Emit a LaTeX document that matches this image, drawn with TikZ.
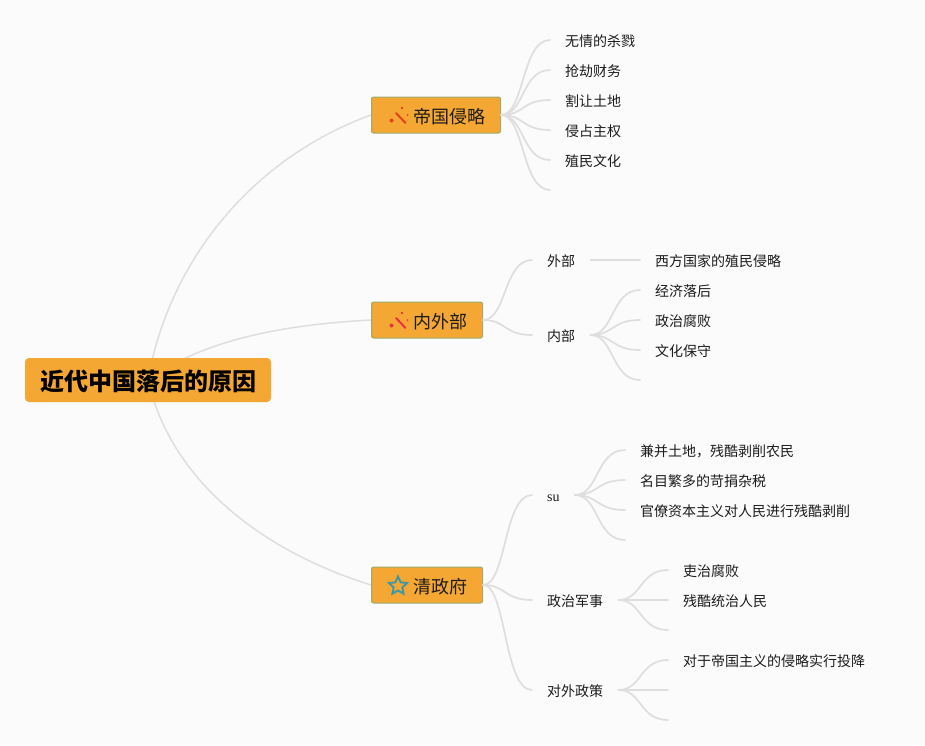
\documentclass[tikz,border=0pt]{standalone}
\usepackage{fontspec}
\setmainfont{Noto Sans CJK SC}
\newfontfamily\latinserif{Liberation Serif}
\usetikzlibrary{calc,backgrounds,shapes.geometric}
\definecolor{pagebg}{HTML}{FBFBFB}
\definecolor{boxfill}{HTML}{F5A733}
\definecolor{boxline}{HTML}{9CAB70}
\definecolor{linkgrey}{HTML}{DEDEDE}
\definecolor{inkdark}{HTML}{1C1C1C}
\definecolor{wandA}{HTML}{E4401E}
\definecolor{wandB}{HTML}{EE2F48}
\definecolor{startint}{HTML}{3F97A5}
\tikzset{
  x=1pt,y=-1pt,
  rootbox/.style={fill=boxfill,rounded corners=4pt,minimum width=246pt,minimum height=44pt,inner sep=0pt,text=black,text height=24pt,text depth=2.8pt,font=\fontsize{24}{28}\selectfont\bfseries},
  mainbox/.style={fill=boxfill,draw=boxline,line width=1pt,rounded corners=2pt,minimum height=36pt,inner xsep=15pt,inner ysep=0pt,anchor=west,text=inkdark,text height=18pt,text depth=1.3pt,font=\fontsize{18}{22}\selectfont},
  topic/.style={anchor=west,inner xsep=15pt,inner ysep=0pt,text=inkdark,text height=14pt,text depth=1.4pt,font=\fontsize{14}{17}\selectfont},
  link/.style={draw=linkgrey,line width=1.7pt,line cap=round},
  rootlink/.style={draw=linkgrey,line width=1.5pt},
  wandstroke/.style={line width=2pt,line cap=round}
}
\newcommand{\linkto}[2]{\draw[link] let \p1=(#1),\p2=(#2) in (\p1) .. controls ({0.52*\x1+0.48*\x2},\y1) and ({0.58*\x1+0.42*\x2},\y2) .. (\p2);}
\newcommand{\wandicon}[2]{%
  \begin{scope}[shift={(#1.west)},#2]
    \draw[wandstroke] (25,-2) -- (34.5,8);
    \fill (31,-7) circle (1.4pt);
    \fill (36.5,0) circle (1pt);
    \fill (20.5,5.5) circle (2pt);
  \end{scope}}
\begin{document}
\begin{tikzpicture}
\useasboundingbox (0,0) rectangle (925,745);
\begin{pgfonlayer}{background}
  \fill[pagebg] (0,0) rectangle (925,745);
\end{pgfonlayer}

\node[rootbox] (root) at (148,380) {近代中国落后的原因};
\node[mainbox] (diguo) at (371,115) {\hspace{27pt}帝国侵略};
\node[mainbox] (neiwai) at (371,320) {\hspace{27pt}内外部};
\node[mainbox] (qing) at (371,585) {\hspace{27pt}清政府};

\wandicon{diguo}{color=wandA}
\wandicon{neiwai}{color=wandB}
\node[star,star points=5,star point ratio=2.1,draw=startint,line width=1.9pt,minimum size=19pt,inner sep=0pt] (staricon) at ($(qing.west)+(27,1)$) {};

% first branch
\node[topic] (a1) at (550,40) {无情的杀戮};
\node[topic] (a2) at (550,70) {抢劫财务};
\node[topic] (a3) at (550,100) {割让土地};
\node[topic] (a4) at (550,130) {侵占主权};
\node[topic] (a5) at (550,160) {殖民文化};
\coordinate (a6) at (550,190);

% second branch
\node[topic] (b1) at (532,260) {外部};
\node[topic] (b2) at (532,335) {内部};
\node[topic] (b11) at (640,260) {西方国家的殖民侵略};
\node[topic] (b21) at (640,290) {经济落后};
\node[topic] (b22) at (640,320) {政治腐败};
\node[topic] (b23) at (640,350) {文化保守};
\coordinate (b24) at (640,380);

% third branch
\node[topic] (c1) at (532,495) {\latinserif su};
\node[topic] (c2) at (532,600) {政治军事};
\node[topic] (c3) at (532,690) {对外政策};
\node[topic] (c11) at (625,450) {兼并土地，残酷剥削农民};
\node[topic] (c12) at (625,480) {名目繁多的苛捐杂税};
\node[topic] (c13) at (625,510) {官僚资本主义对人民进行残酷剥削};
\coordinate (c14) at (625,540);
\node[topic] (c21) at (668,570) {吏治腐败};
\node[topic] (c22) at (668,600) {残酷统治人民};
\coordinate (c23) at (668,630);
\node[topic] (c31) at (668,660) {对于帝国主义的侵略实行投降};
\coordinate (c32) at (668,690);
\coordinate (c33) at (668,720);

\begin{pgfonlayer}{background}
  \draw[rootlink] (root.center) .. controls +(21.5,-122) and +(-116,42) .. (diguo.west);
  \draw[rootlink] (root.center) .. controls +(60,-44) and +(-74,4) .. (neiwai.west);
  \draw[rootlink] (root.center) .. controls +(24,105) and +(-103,-32) .. (qing.west);
\end{pgfonlayer}

\foreach \t in {a1,a2,a3,a4,a5} {\linkto{diguo.east}{\t.west}}
\linkto{diguo.east}{a6}
\linkto{neiwai.east}{b1.west}
\linkto{neiwai.east}{b2.west}
\linkto{b1.east}{b11.west}
\foreach \t in {b21,b22,b23} {\linkto{b2.east}{\t.west}}
\linkto{b2.east}{b24}
\linkto{qing.east}{c1.west}
\linkto{qing.east}{c2.west}
\linkto{qing.east}{c3.west}
\foreach \t in {c11,c12,c13} {\linkto{c1.east}{\t.west}}
\linkto{c1.east}{c14}
\foreach \t in {c21,c22} {\linkto{c2.east}{\t.west}}
\linkto{c2.east}{c23}
\linkto{c3.east}{c31.west}
\linkto{c3.east}{c32}
\linkto{c3.east}{c33}
\end{tikzpicture}
\end{document}
